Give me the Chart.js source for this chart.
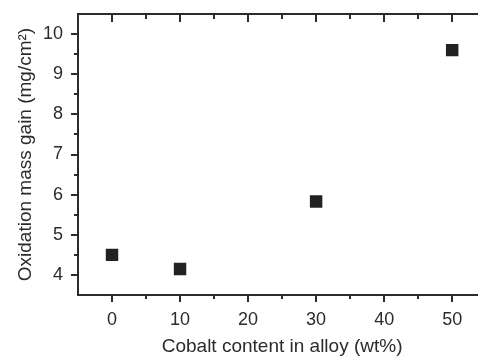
<!DOCTYPE html>
<html>
<head>
<meta charset="utf-8">
<script src="https://cdn.jsdelivr.net/npm/chart.js@4.4.0/dist/chart.umd.min.js"></script>
<style>
  html, body { margin: 0; padding: 0; background: #fff; overflow: hidden; width: 478px; height: 358px; }
  #wrap { position: relative; width: 495px; height: 358px; }
</style>
</head>
<body>
<div id="wrap"><canvas id="c" width="495" height="358"></canvas></div>
<script>
const cobaltContent = [0, 10, 30, 50];
const massGain = [4.5, 4.15, 5.83, 9.6];
const xTickValues = [0, 10, 20, 30, 40, 50];
const xMinorValues = [5, 15, 25, 35, 45];
const yTickValues = [4, 5, 6, 7, 8, 9, 10];
const yMinorValues = [4.5, 5.5, 6.5, 7.5, 8.5, 9.5];

const ink = '#2b2b2b';
const tickFont = { family: '"Liberation Sans", Arial, sans-serif', size: 18 };
const titleFont = { family: '"Liberation Sans", Arial, sans-serif', size: 19 };

const tickMarks = {
  id: 'tickMarks',
  afterDraw(chart) {
    const { ctx, chartArea: a } = chart;
    const xs = chart.scales.x, ys = chart.scales.y;
    ctx.save();
    ctx.strokeStyle = ink;
    ctx.lineWidth = 2;
    ctx.beginPath();
    xTickValues.forEach(v => {
      const p = Math.round(xs.getPixelForValue(v));
      ctx.moveTo(p, a.bottom); ctx.lineTo(p, a.bottom + 7);
      ctx.moveTo(p, a.top); ctx.lineTo(p, a.top + 8);
    });
    xMinorValues.forEach(v => {
      const p = Math.round(xs.getPixelForValue(v));
      ctx.moveTo(p, a.bottom); ctx.lineTo(p, a.bottom + 4);
      ctx.moveTo(p, a.top); ctx.lineTo(p, a.top + 5);
    });
    yTickValues.forEach(v => {
      const p = Math.round(ys.getPixelForValue(v));
      ctx.moveTo(a.left, p); ctx.lineTo(a.left - 7, p);
    });
    yMinorValues.forEach(v => {
      const p = Math.round(ys.getPixelForValue(v));
      ctx.moveTo(a.left, p); ctx.lineTo(a.left - 4, p);
    });
    ctx.stroke();
    ctx.restore();
  }
};

function noPad(s) { s.paddingTop = 0; s.paddingBottom = 0; s.paddingLeft = 0; s.paddingRight = 0; }

new Chart(document.getElementById('c'), {
  type: 'scatter',
  data: {
    datasets: [{
      data: cobaltContent.map((x, i) => ({ x, y: massGain[i] })),
      pointStyle: 'rect',
      pointRadius: 8.8,
      pointHoverRadius: 8.8,
      backgroundColor: '#222',
      borderWidth: 0
    }]
  },
  options: {
    responsive: false,
    animation: false,
    events: [],
    layout: { padding: { left: 0, right: 8, top: 0, bottom: 0 } },
    plugins: { legend: { display: false }, tooltip: { enabled: false } },
    scales: {
      x: {
        type: 'linear', position: 'bottom', min: -5, max: 55,
        afterBuildTicks: s => { s.ticks = xTickValues.map(v => ({ value: v })); },
        afterFit: s => { s.height = 63; noPad(s); },
        grid: { display: false, drawTicks: false },
        border: { display: true, color: ink, width: 2 },
        ticks: { color: ink, font: tickFont, padding: 14, maxRotation: 0 },
        title: { display: true, text: 'Cobalt content in alloy (wt%)', color: ink, font: titleFont, padding: { top: 0, bottom: 0 } }
      },
      x2: {
        type: 'linear', position: 'top', min: -5, max: 55,
        afterFit: s => { s.height = 14; noPad(s); },
        grid: { display: false, drawTicks: false },
        border: { display: true, color: ink, width: 2 },
        ticks: { display: false }
      },
      y: {
        type: 'linear', position: 'left', min: 3.5, max: 10.5,
        afterBuildTicks: s => { s.ticks = yTickValues.map(v => ({ value: v })); },
        afterFit: s => { s.width = 78; noPad(s); },
        grid: { display: false, drawTicks: false },
        border: { display: true, color: ink, width: 2 },
        ticks: { color: ink, font: tickFont, padding: 15 },
        title: { display: true, text: 'Oxidation mass gain (mg/cm²)', color: ink, font: titleFont, padding: { top: 14, bottom: 0 } }
      }
    }
  },
  plugins: [tickMarks]
});
</script>
</body>
</html>
